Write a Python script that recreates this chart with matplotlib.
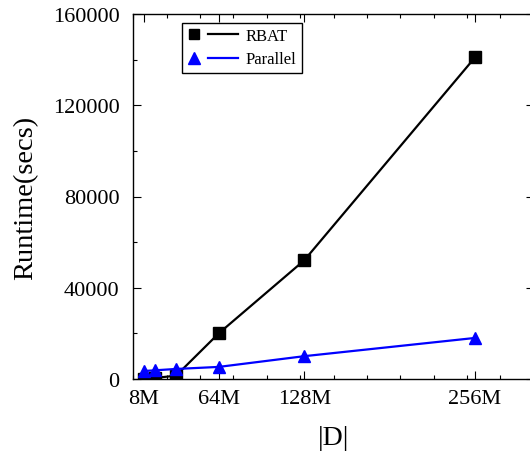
import matplotlib
matplotlib.use("Agg")
import matplotlib.pyplot as plt
from matplotlib.lines import Line2D
from matplotlib.legend_handler import HandlerBase
from matplotlib.ticker import MultipleLocator, FixedLocator

plt.rcParams['font.family'] = ['Liberation Serif', 'DejaVu Serif']

sizes = [8, 16, 32, 64, 128, 256]
rbat = [100, 450, 1450, 20000, 52000, 141000]
parallel = [3500, 3800, 4400, 5300, 10000, 18000]
xtick_vals = [8, 64, 128, 256]
xtick_labels = ['8M', '64M', '128M', '256M']
ytick_vals = [0, 40000, 80000, 120000, 160000]


class MarkerThenLine(HandlerBase):
    def create_artists(self, legend, orig_handle, xdescent, ydescent,
                       width, height, fontsize, trans):
        y = height / 2 - ydescent
        x0 = -xdescent
        m = Line2D([x0 + 0.14 * width], [y], ls='none',
                   marker=orig_handle.get_marker(),
                   color=orig_handle.get_color(),
                   ms=orig_handle.get_markersize())
        l = Line2D([x0 + 0.41 * width, x0 + width], [y, y],
                   color=orig_handle.get_color(),
                   lw=orig_handle.get_linewidth())
        m.set_transform(trans)
        l.set_transform(trans)
        return [m, l]


fig = plt.figure(figsize=(5.3, 4.52), dpi=100)
ax = fig.add_axes([133.3/530, 1-380/452, 400.5/530, 365/452])

l1, = ax.plot(sizes, rbat, color='black', lw=1.6, marker='s', ms=8.5, zorder=3)
l2, = ax.plot(sizes, parallel, color='blue', lw=1.6, marker='^', ms=9, zorder=4)

ax.set_xlim(0, 300)
ax.set_ylim(0, 160000)
ax.xaxis.set_major_locator(FixedLocator(xtick_vals))
ax.set_xticklabels(xtick_labels)
ax.xaxis.set_minor_locator(MultipleLocator(25))
ax.set_yticks(ytick_vals)
ax.set_yticklabels([str(v) for v in ytick_vals])
ax.yaxis.set_minor_locator(MultipleLocator(20000))

ax.tick_params(which='both', direction='in', top=True, right=True, labelsize=16, colors='black')
ax.tick_params(which='major', length=6, width=0.8)
ax.tick_params(axis='y', which='major', pad=10)
ax.tick_params(axis='x', which='major', pad=7)
ax.tick_params(which='minor', length=3, width=0.8)
for s in ax.spines.values():
    s.set_linewidth(1.0)

ax.set_ylabel('Runtime(secs)', fontsize=20.5)
ax.yaxis.set_label_coords(-0.238, 0.5)
ax.set_xlabel('|D|', fontsize=20)
ax.xaxis.set_label_coords(0.5, -0.125)

lh1 = Line2D([], [], color='black', marker='s', ms=7.5, lw=1.6)
lh2 = Line2D([], [], color='blue', marker='^', ms=8, lw=1.6)
handler = MarkerThenLine()
leg = ax.legend([lh1, lh2], ['RBAT', 'Parallel'],
                handler_map={lh1: handler, lh2: handler},
                loc='upper left', bbox_to_anchor=((182-133.3)/400.5, (380-24)/365),
                borderaxespad=0, fontsize=12, handlelength=3.05, handletextpad=0.48,
                borderpad=0.31, labelspacing=0.44, fancybox=False,
                edgecolor='black', framealpha=1)
leg.get_frame().set_linewidth(1.0)

fig.savefig('out.png', dpi=100)
